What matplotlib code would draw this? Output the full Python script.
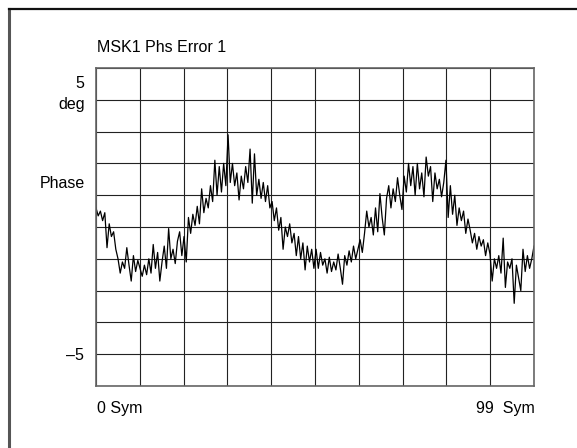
import numpy as np
import matplotlib

matplotlib.use("Agg")
import matplotlib.pyplot as plt
from matplotlib.lines import Line2D

plt.rcParams['font.family'] = ['Liberation Sans Narrow', 'Liberation Sans', 'DejaVu Sans']

# Phase error trace in degrees, two samples per symbol.
phase_deg = [
    0.6, 0.35, 0.5, 0.2, 0.45, -0.65, 0.1, -0.3, -0.15, -0.7,
    -1.0, -1.45, -1.1, -1.3, -0.65, -1.2, -1.7, -0.9, -1.4, -1.05,
    -1.3, -1.55, -1.2, -1.5, -1.0, -1.45, -0.55, -1.3, -0.8, -1.7,
    -1.1, -0.6, -1.3, -0.05, -1.0, -0.7, -1.15, -0.45, -0.15, -0.9,
    -0.3, -1.1, 0.3, -0.2, 0.4, 0.05, 0.65, 0.1, 1.2, 0.45,
    0.9, 0.6, 1.3, 0.8, 2.1, 1.0, 1.9, 1.1, 2.0, 1.3,
    2.9, 1.4, 2.0, 1.3, 1.7, 0.85, 1.6, 1.2, 1.9, 1.4,
    2.45, 0.75, 2.3, 1.0, 1.5, 0.9, 1.4, 0.8, 1.3, 0.6,
    0.8, 0.2, 0.6, -0.1, 0.3, -0.7, 0.0, -0.3, 0.1, -0.5,
    -0.2, -0.9, -0.3, -1.0, -0.5, -1.35, -0.6, -1.1, -0.7, -1.3,
    -0.7, -1.3, -0.8, -1.2, -1.0, -1.45, -0.95, -1.4, -1.1, -1.35,
    -0.85, -1.3, -1.8, -0.9, -1.2, -0.75, -1.1, -0.6, -1.0, -0.7,
    -0.4, -0.8, -0.2, 0.5, 0.0, 0.3, -0.25, 0.6, -0.15, 1.05,
    0.3, -0.25, 0.9, 1.3, 0.6, 1.2, 0.8, 1.55, 1.0, 0.55,
    1.6, 1.1, 2.0, 1.3, 1.9, 1.0, 2.0, 1.2, 1.7, 0.95,
    2.2, 1.6, 1.9, 0.8, 1.7, 1.2, 1.5, 0.95, 1.4, 2.1,
    0.3, 1.3, 0.4, 1.0, 0.05, 0.6, 0.2, 0.5, -0.2, 0.25,
    -0.1, -0.5, -0.2, -0.7, -0.3, -0.6, -0.4, -0.9, -0.5, -0.85,
    -1.7, -1.0, -1.3, -0.9, -1.45, -0.35, -1.9, -1.1, -1.3, -1.0,
    -2.4, -1.2, -1.6, -2.0, -0.7, -1.4, -0.9, -1.3, -1.0, -0.6,
]
sym_start, sym_stop = 0, 99
y_top, y_bottom = 5, -5

W, H = 577, 448
fig = plt.figure(figsize=(W / 100, H / 100), dpi=100)

# outer instrument frame (runs off the right and bottom edges)
fig.add_artist(Line2D([9 / W, 9 / W], [0, 1 - 9 / H], color='#555555', lw=2.2))
fig.add_artist(Line2D([9 / W, 1], [1 - 9 / H, 1 - 9 / H], color='#111111', lw=1.6))

gl, gt, gr, gb = 96, 68, 534, 386
ax = fig.add_axes([gl / W, 1 - gb / H, (gr - gl) / W, (gb - gt) / H])
symbols = np.linspace(sym_start, sym_stop, len(phase_deg))
ax.plot(symbols, phase_deg, color='black', lw=0.9)
ax.set_xlim(sym_start, sym_stop)
ax.set_ylim(y_bottom, y_top)
ax.set_xticks(np.linspace(sym_start, sym_stop, 11))
ax.set_yticks(np.linspace(y_bottom, y_top, 11))
ax.grid(True, color='#222222', lw=0.8)
ax.tick_params(length=0, labelbottom=False, labelleft=False)
for s in ax.spines.values():
    s.set_color('#666666')
    s.set_linewidth(1.2)

fs = 11.5
def put(x, y, txt, ha='left'):
    fig.text(x / W, 1 - y / H, txt, ha=ha, va='center', fontsize=fs)

put(97, 48, "MSK1 Phs Error 1")
put(84, 83, "5", ha='right')
put(85, 104, "deg", ha='right')
put(85, 183, "Phase", ha='right')
put(84, 355, "\u20135", ha='right')
put(97, 408, "0 Sym")
put(535, 408, "99  Sym", ha='right')

fig.savefig("out.png", dpi=100)
